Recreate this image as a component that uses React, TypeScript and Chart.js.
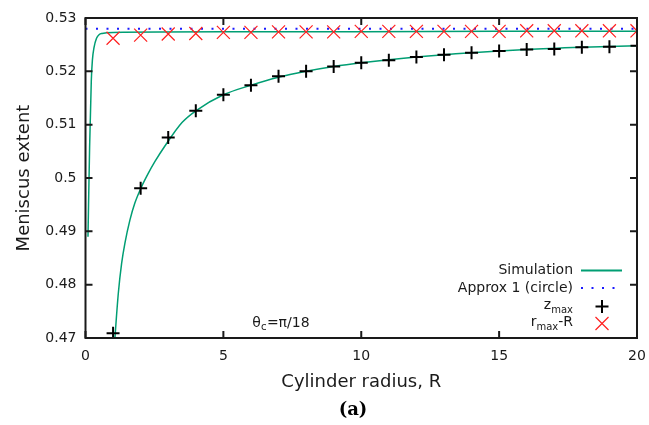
import React, { useEffect, useRef } from 'react';
import { Chart, registerables } from 'chart.js';

Chart.register(...registerables);

// ---- data ----
const radiusSamples = [1, 2, 3, 4, 5, 6, 7, 8, 9, 10, 11, 12, 13, 14, 15, 16, 17, 18, 19, 20];
const zMax = [0.4709, 0.4981, 0.5076, 0.5126, 0.5156, 0.5174, 0.5191, 0.52, 0.5209, 0.5216, 0.5221, 0.5227, 0.5231, 0.5235, 0.5238, 0.5241, 0.5242, 0.5245, 0.5246, 0.5248];
const rMaxMinusR = [0.5262, 0.5268, 0.527, 0.5271, 0.5273, 0.5273, 0.5274, 0.5274, 0.5274, 0.5275, 0.5275, 0.5275, 0.5275, 0.5275, 0.5275, 0.5276, 0.5276, 0.5276, 0.5276, 0.5276];

const simUpperR = [0.09, 0.15, 0.21, 0.25, 0.31, 0.4, 0.5, 0.6, 1, 5, 10, 15, 20];
const simUpperVal = [0.489, 0.506, 0.5182, 0.5221, 0.5245, 0.5262, 0.5269, 0.5271, 0.5273, 0.5274, 0.5274, 0.5275, 0.5275];

const simLowerR = [1.0, 1.07, 1.19, 1.31, 1.43, 1.61, 1.79, 2.01, 2.28, 2.52, 2.88, 3.5, 4, 5, 6, 7, 8, 9, 10, 12, 14, 16, 18, 20];
const simLowerVal = [0.4648, 0.4702, 0.4784, 0.484, 0.4878, 0.4921, 0.4953, 0.4981, 0.5009, 0.5031, 0.506, 0.5104, 0.5126, 0.5156, 0.5174, 0.5189, 0.52, 0.5209, 0.5216, 0.5227, 0.5235, 0.5241, 0.5245, 0.5248];

const approxR = [0, 20];
const approxVal = [0.528, 0.528];

const xTicks = [0, 5, 10, 15, 20];
const yTicks = [0.47, 0.48, 0.49, 0.5, 0.51, 0.52, 0.53];

const GREEN = '#009e73';
const BLUE = '#1a1aff';
const RED = '#ff2020';
const INK = '#1a1a1a';
const FONT = "'DejaVu Sans'";

const pts = (xs: number[], ys: number[]) => xs.map((x, i) => ({ x, y: ys[i] }));

const framePlugin = {
  id: 'frameAndLegend',
  afterDatasetsDraw(chart: any) {
    const { ctx, chartArea: a, scales } = chart;
    ctx.save();
    // frame
    ctx.strokeStyle = INK;
    ctx.lineWidth = 2;
    ctx.strokeRect(a.left, a.top, a.right - a.left, a.bottom - a.top);
    // inward mirrored ticks
    ctx.beginPath();
    const tl = 7;
    for (const v of xTicks) {
      const px = scales.x.getPixelForValue(v);
      ctx.moveTo(px, a.bottom); ctx.lineTo(px, a.bottom - tl);
      ctx.moveTo(px, a.top); ctx.lineTo(px, a.top + tl);
    }
    for (const v of yTicks) {
      const py = scales.y.getPixelForValue(v);
      ctx.moveTo(a.left, py); ctx.lineTo(a.left + tl, py);
      ctx.moveTo(a.right, py); ctx.lineTo(a.right - tl, py);
    }
    ctx.stroke();

    // legend (gnuplot style: right-aligned text then sample)
    const big = `14px ${FONT}`;
    const small = `10px ${FONT}`;
    const xr = a.right - 64;
    const sx0 = a.right - 56;
    const sx1 = a.right - 15;
    const sxc = a.right - 35;
    const rows = [a.bottom - 67.5, a.bottom - 50, a.bottom - 31.5, a.bottom - 14.5];
    ctx.fillStyle = INK;
    ctx.textBaseline = 'middle';
    ctx.textAlign = 'right';
    ctx.font = big;
    ctx.fillText('Simulation', xr, rows[0]);
    ctx.fillText('Approx 1 (circle)', xr, rows[1]);
    // z_max
    ctx.font = small;
    const wMax = ctx.measureText('max').width;
    ctx.fillText('max', xr, rows[2] + 4);
    ctx.font = big;
    ctx.fillText('z', xr - wMax, rows[2] - 1.5);
    // r_max-R
    const wR = ctx.measureText('-R').width;
    ctx.fillText('-R', xr, rows[3] - 1.5);
    ctx.font = small;
    ctx.fillText('max', xr - wR, rows[3] + 4);
    ctx.font = big;
    ctx.fillText('r', xr - wR - wMax, rows[3] - 1.5);

    // samples
    ctx.strokeStyle = GREEN;
    ctx.lineWidth = 2;
    ctx.beginPath(); ctx.moveTo(sx0, rows[0]); ctx.lineTo(sx1, rows[0]); ctx.stroke();
    ctx.strokeStyle = BLUE;
    ctx.setLineDash([2, 8.5]);
    ctx.beginPath(); ctx.moveTo(sx0, rows[1]); ctx.lineTo(sx1, rows[1]); ctx.stroke();
    ctx.setLineDash([]);
    ctx.strokeStyle = '#000';
    ctx.lineWidth = 2;
    ctx.beginPath();
    ctx.moveTo(sxc - 6.5, rows[2]); ctx.lineTo(sxc + 6.5, rows[2]);
    ctx.moveTo(sxc, rows[2] - 6.5); ctx.lineTo(sxc, rows[2] + 6.5);
    ctx.stroke();
    ctx.strokeStyle = RED;
    ctx.lineWidth = 1.2;
    ctx.beginPath();
    ctx.moveTo(sxc - 6.5, rows[3] - 6.5); ctx.lineTo(sxc + 6.5, rows[3] + 6.5);
    ctx.moveTo(sxc - 6.5, rows[3] + 6.5); ctx.lineTo(sxc + 6.5, rows[3] - 6.5);
    ctx.stroke();

    // annotation theta_c = pi/18
    ctx.fillStyle = INK;
    ctx.textAlign = 'left';
    ctx.textBaseline = 'alphabetic';
    const ax = scales.x.getPixelForValue(6.05);
    const ay = a.bottom - 11;
    ctx.font = big;
    ctx.fillText('θ', ax, ay);
    const wt = ctx.measureText('θ').width;
    ctx.font = small;
    ctx.fillText('c', ax + wt, ay + 3);
    const wc = ctx.measureText('c').width;
    ctx.font = big;
    ctx.fillText('=π/18', ax + wt + wc + 0.5, ay);

    // panel label
    ctx.fillStyle = '#000';
    ctx.textAlign = 'center';
    ctx.textBaseline = 'middle';
    ctx.font = "bold 18px 'DejaVu Serif'";
    ctx.fillText('(a)', scales.x.getPixelForValue(9.7), a.bottom + 72);
    ctx.restore();
  },
};

export default function App() {
  const ref = useRef<HTMLCanvasElement>(null);
  useEffect(() => {
    if (!ref.current) return;
    const chart = new Chart(ref.current, {
      type: 'line',
      data: {
        datasets: [
          {
            label: 'z_max',
            data: pts(radiusSamples, zMax),
            showLine: false,
            pointStyle: 'cross',
            pointRadius: 6.5,
            pointBorderWidth: 2,
            borderColor: '#000',
            backgroundColor: '#000',
            order: 0,
          },
          {
            label: 'r_max-R',
            data: pts(radiusSamples, rMaxMinusR),
            showLine: false,
            pointStyle: 'crossRot',
            pointRadius: 9.2,
            pointBorderWidth: 1.2,
            borderColor: RED,
            backgroundColor: RED,
            order: 0,
          },
          {
            label: 'Approx 1 (circle)',
            data: pts(approxR, approxVal),
            borderColor: BLUE,
            borderWidth: 2,
            borderDash: [2, 8.5],
            pointRadius: 0,
            order: 1,
          },
          {
            label: 'Simulation',
            data: pts(simUpperR, simUpperVal),
            borderColor: GREEN,
            borderWidth: 1.5,
            pointRadius: 0,
            cubicInterpolationMode: 'monotone',
            order: 2,
          },
          {
            label: 'Simulation (z)',
            data: pts(simLowerR, simLowerVal),
            borderColor: GREEN,
            borderWidth: 1.5,
            pointRadius: 0,
            cubicInterpolationMode: 'monotone',
            order: 2,
          },
        ],
      },
      options: {
        responsive: false,
        animation: false,
        events: [],
        layout: { padding: { top: 18, right: 12, left: 0, bottom: 27 } },
        plugins: {
          legend: { display: false },
          tooltip: { enabled: false },
          title: { display: false },
        },
        scales: {
          x: {
            type: 'linear',
            min: 0,
            max: 20,
            afterBuildTicks: (s: any) => { s.ticks = xTicks.map((v) => ({ value: v })); },
            afterFit: (s: any) => { s.height = 60; s.paddingLeft = 0; s.paddingRight = 0; },
            grid: { display: false, drawTicks: false },
            border: { display: false },
            ticks: { color: INK, font: { family: FONT, size: 14 }, padding: 10, callback: (v: any) => String(v) },
            title: {
              display: true,
              text: 'Cylinder radius, R',
              color: INK,
              font: { family: FONT, size: 18 },
              padding: { top: 0, bottom: 5 },
            },
          },
          y: {
            type: 'linear',
            min: 0.47,
            max: 0.53,
            afterBuildTicks: (s: any) => { s.ticks = yTicks.map((v) => ({ value: v })); },
            afterFit: (s: any) => { s.width = 85.5; },
            grid: { display: false, drawTicks: false },
            border: { display: false },
            ticks: {
              color: INK,
              font: { family: FONT, size: 14 },
              padding: 9,
              callback: (v: any) => String(+Number(v).toFixed(2)),
            },
            title: {
              display: true,
              text: 'Meniscus extent',
              color: INK,
              font: { family: FONT, size: 18 },
              padding: { top: 14, bottom: 0 },
            },
          },
        },
      },
      plugins: [framePlugin],
    } as any);
    return () => chart.destroy();
  }, []);
  return (
    <div style={{ position: 'absolute', left: 0, top: 0, width: 649, height: 425, background: '#fff' }}>
      <canvas ref={ref} width={649} height={425} style={{ display: 'block' }} />
    </div>
  );
}
